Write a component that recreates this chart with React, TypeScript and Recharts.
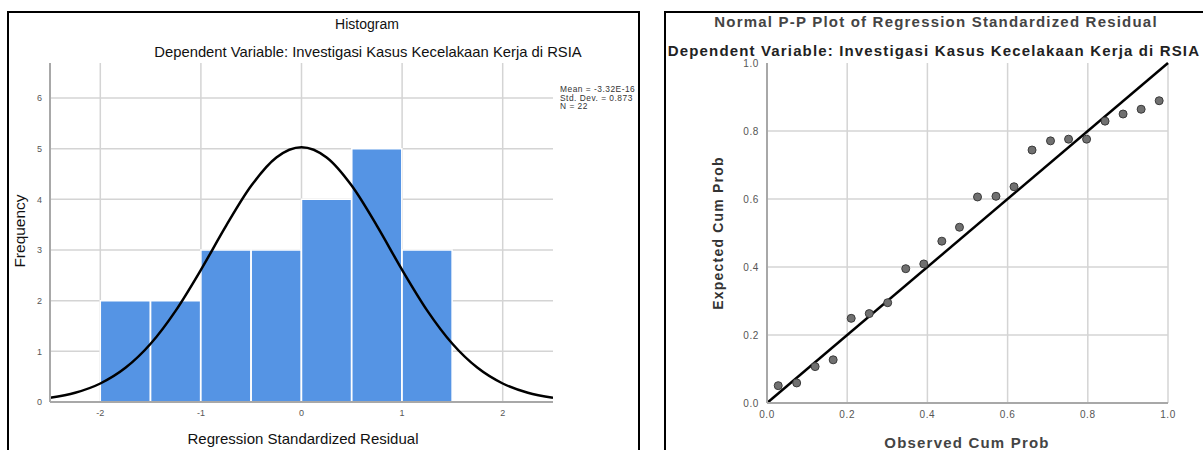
import React from 'react';
import {
  ComposedChart,
  Bar,
  Line,
  Scatter,
  XAxis,
  YAxis,
  CartesianGrid,
  ReferenceLine,
} from 'recharts';

// ---------- Histogram data ----------
const binLabels = ['-2.5', '-2.0', '-1.5', '-1.0', '-0.5', '0.0', '0.5', '1.0', '1.5', '2.0'];
const binCounts = [0, 2, 2, 3, 3, 4, 5, 3, 0, 0];
const curveX = [-2.5, -2.25, -2, -1.75, -1.5, -1.25, -1, -0.75, -0.5, -0.25, 0, 0.25, 0.5, 0.75, 1, 1.25, 1.5, 1.75, 2, 2.25, 2.5];
const curveY = [0.083, 0.182, 0.365, 0.674, 1.149, 1.804, 2.608, 3.476, 4.266, 4.825, 5.027, 4.825, 4.266, 3.476, 2.608, 1.804, 1.149, 0.674, 0.365, 0.182, 0.083];
const histXTicks = [-2, -1, 0, 1, 2];
const histYTicks = [0, 1, 2, 3, 4, 5, 6];
const histStats = ['Mean = -3.32E-16', 'Std. Dev. = 0.873', 'N = 22'];

// ---------- P-P plot data ----------
const observedCumProb = [0.028, 0.074, 0.12, 0.165, 0.21, 0.255, 0.301, 0.346, 0.391, 0.436, 0.48, 0.525, 0.571, 0.616, 0.661, 0.707, 0.752, 0.797, 0.843, 0.888, 0.933, 0.978];
const expectedCumProb = [0.051, 0.059, 0.107, 0.127, 0.249, 0.263, 0.295, 0.395, 0.409, 0.476, 0.517, 0.606, 0.608, 0.636, 0.744, 0.771, 0.776, 0.776, 0.829, 0.85, 0.864, 0.889];
const ppTicks = [0, 0.2, 0.4, 0.6, 0.8, 1];
const diagonal = [
  { x: 0, y: 0 },
  { x: 1, y: 1 },
];

const histBars = binLabels.map((bin, i) => ({ bin, count: binCounts[i] }));
const histCurve = curveX.map((x, i) => ({ x, y: curveY[i] }));
const ppPoints = observedCumProb.map((x, i) => ({ x, y: expectedCumProb[i] }));

const FONT = '"Liberation Sans", Arial, Helvetica, sans-serif';

const Label = ({
  x,
  y,
  text,
  size,
  weight = 'normal',
  color = '#222',
  rotate = false,
  align = 'center',
  spacing = 0,
}: {
  x: number;
  y: number;
  text: string;
  size: number;
  weight?: string | number;
  color?: string;
  rotate?: boolean;
  align?: 'center' | 'left';
  spacing?: number;
}) => (
  <div
    style={{
      position: 'absolute',
      left: x,
      top: y,
      transform:
        (align === 'center' ? 'translate(-50%, -50%)' : 'translate(0, -50%)') +
        (rotate ? ' rotate(-90deg)' : ''),
      fontFamily: FONT,
      fontSize: size,
      fontWeight: weight as any,
      letterSpacing: spacing,
      color,
      whiteSpace: 'nowrap',
      lineHeight: 1,
    }}
  >
    {text}
  </div>
);

const PointShape = (props: any) => (
  <circle cx={props.cx} cy={props.cy} r={4} fill="#707070" stroke="#3a3a3a" strokeWidth={1} />
);

const ppTick = { fontSize: 10, fill: '#555', fontFamily: FONT, letterSpacing: 0.6 };

export default function App() {
  return (
    <div
      style={{
        position: 'fixed',
        left: 0,
        top: 0,
        width: 1203,
        height: 450,
        overflow: 'hidden',
        background: '#fff',
      }}
    >
      {/* Left panel: Histogram */}
      <div
        style={{
          position: 'absolute',
          left: 7,
          top: 11,
          width: 633,
          height: 470,
          border: '2px solid #000',
          boxSizing: 'border-box',
          overflow: 'hidden',
        }}
      >
        <div style={{ position: 'absolute', left: -9, top: -13, width: 640, height: 460 }}>
          <ComposedChart
            width={640}
            height={450}
            data={histBars}
            margin={{ top: 63, right: 87, bottom: 0, left: 20 }}
            barCategoryGap={0}
            barGap={0}
          >
            <CartesianGrid
              xAxisId="num"
              stroke="#d4d4d4"
              strokeWidth={1.5}
              verticalValues={histXTicks}
              horizontalValues={[1, 2, 3, 4, 5, 6]}
            />
            <XAxis xAxisId="bins" dataKey="bin" type="category" orientation="top" height={0} hide />
            <XAxis
              xAxisId="num"
              dataKey="x"
              type="number"
              domain={[-2.5, 2.5]}
              ticks={histXTicks}
              allowDataOverflow
              height={48}
              tickLine={false}
              axisLine={{ stroke: '#a8a8a8', strokeWidth: 2 }}
              tick={{ fontSize: 9, fill: '#555', fontFamily: FONT }}
            />
            <YAxis
              type="number"
              domain={[0, 6.69]}
              ticks={histYTicks}
              allowDataOverflow
              width={30}
              tickLine={false}
              axisLine={{ stroke: '#a8a8a8', strokeWidth: 2 }}
              tick={{ fontSize: 9, fill: '#555', fontFamily: FONT }}
            />
            <Bar
              xAxisId="bins"
              dataKey="count"
              fill="#5594e4"
              stroke="#ffffff"
              strokeWidth={1.5}
              isAnimationActive={false}
            />
            <Line
              xAxisId="num"
              data={histCurve}
              dataKey="y"
              type="monotone"
              stroke="#000"
              strokeWidth={2.5}
              dot={false}
              activeDot={false}
              isAnimationActive={false}
            />
          </ComposedChart>
          <Label x={367} y={24} text="Histogram" size={14} color="#111" />
          <Label
            x={368}
            y={52}
            text="Dependent Variable: Investigasi Kasus Kecelakaan Kerja di RSIA"
            size={14.8}
            color="#111"
          />
          <Label x={20} y={231} text="Frequency" size={15.5} color="#111" rotate />
          <Label x={303} y={438} text="Regression Standardized Residual" size={15} color="#111" />
          {histStats.map((s, i) => (
            <Label
              key={s}
              x={560}
              y={89 + i * 8.6}
              text={s}
              size={8.4}
              color="#333"
              align="left"
              spacing={0.5}
            />
          ))}
        </div>
      </div>

      {/* Right panel: Normal P-P plot */}
      <div
        style={{
          position: 'absolute',
          left: 664,
          top: 11,
          width: 600,
          height: 470,
          border: '2px solid #000',
          boxSizing: 'border-box',
          overflow: 'hidden',
        }}
      >
        <div style={{ position: 'absolute', left: -666, top: -13, width: 1203, height: 460 }}>
          <div style={{ position: 'absolute', left: 664, top: 0 }}>
            <ComposedChart
              width={539}
              height={450}
              data={ppPoints}
              margin={{ top: 63, right: 35, bottom: 0, left: 73 }}
            >
              <CartesianGrid
                stroke="#d4d4d4"
                strokeWidth={1.5}
                verticalValues={[0.2, 0.4, 0.6, 0.8, 1]}
                horizontalValues={[0.2, 0.4, 0.6, 0.8]}
              />
              <XAxis
                dataKey="x"
                type="number"
                domain={[0, 1]}
                ticks={ppTicks}
                allowDataOverflow
                height={47}
                tickLine={false}
                tickFormatter={(v: number) => v.toFixed(1)}
                axisLine={{ stroke: '#a8a8a8', strokeWidth: 2 }}
                tick={ppTick}
              />
              <YAxis
                dataKey="y"
                type="number"
                domain={[0, 1]}
                ticks={ppTicks}
                allowDataOverflow
                width={30}
                tickLine={false}
                tickFormatter={(v: number) => v.toFixed(1)}
                axisLine={{ stroke: '#a8a8a8', strokeWidth: 2 }}
                tick={ppTick}
              />
              <ReferenceLine
                segment={diagonal}
                stroke="#000"
                strokeWidth={2.5}
                ifOverflow="visible"
              />
              <Scatter data={ppPoints} dataKey="y" shape={PointShape} isAnimationActive={false} />
            </ComposedChart>
          </div>
          <Label
            x={936}
            y={21}
            text="Normal P-P Plot of Regression Standardized Residual"
            size={15}
            weight="bold"
            color="#444"
            spacing={1.2}
          />
          <Label
            x={934}
            y={50}
            text="Dependent Variable: Investigasi Kasus Kecelakaan Kerja di RSIA"
            size={15}
            weight="bold"
            color="#222"
            spacing={1.15}
          />
          <Label
            x={718}
            y={233}
            text="Expected Cum Prob"
            size={14}
            weight="bold"
            color="#333"
            rotate
            spacing={1.2}
          />
          <Label
            x={967}
            y={442}
            text="Observed Cum Prob"
            size={15}
            weight="bold"
            color="#444"
            spacing={1.2}
          />
        </div>
      </div>
    </div>
  );
}
